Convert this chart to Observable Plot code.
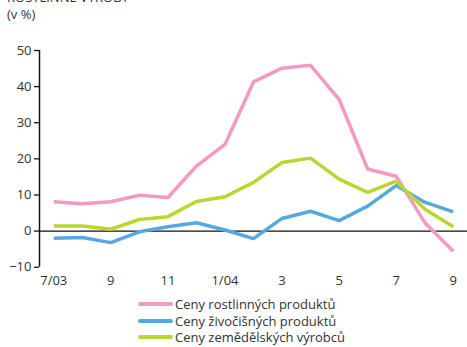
<!DOCTYPE html>
<html>
<head>
<meta charset="utf-8">
<script src="https://cdn.jsdelivr.net/npm/d3@7"></script>
<script src="https://cdn.jsdelivr.net/npm/@observablehq/plot@0.6"></script>
<style>
  html, body { margin: 0; padding: 0; background: #fff; }
  body { width: 467px; height: 347px; overflow: hidden; position: relative; font-family: "Open Sans", sans-serif; color: #333; }
  #title { position: absolute; left: 7px; top: -12px; font-size: 13px; white-space: nowrap; }
  #unit { position: absolute; left: 7px; top: 5px; font-size: 13px; }
  #chart { position: absolute; left: 0; top: 0; }
  #legend { position: absolute; left: 138px; top: 296px; font-size: 13px; line-height: 16.5px; }
  .item { display: flex; align-items: center; white-space: nowrap; }
  .sw { width: 35px; height: 4px; border-radius: 2px; margin-right: 2px; }
</style>
</head>
<body>
<div id="title">ROSTLINNÉ VÝROBY</div>
<div id="unit">(v %)</div>
<div id="chart"></div>
<div id="legend"></div>
<script>
const months = ["7/03","8","9","10","11","12","1/04","2","3","4","5","6","7","8","9"];
const tickLabels = ["7/03","9","11","1/04","3","5","7","9"];
const seriesNames = ["Ceny rostlinných produktů","Ceny živočišných produktů","Ceny zemědělských výrobců"];
const plantPrices = [8.1, 7.6, 8.1, 9.9, 9.3, 18.0, 24.0, 41.3, 45.1, 45.9, 36.5, 17.2, 15.2, 2.4, -5.6];
const animalPrices = [-2.0, -1.8, -3.2, -0.2, 1.2, 2.3, 0.3, -2.1, 3.5, 5.5, 2.9, 6.9, 12.6, 8.0, 5.3];
const farmPrices = [1.4, 1.4, 0.5, 3.2, 4.0, 8.2, 9.5, 13.5, 19.0, 20.2, 14.4, 10.7, 13.8, 6.1, 1.2];
const colors = ["#f49ac2", "#55a9e0", "#bdd531"];
const yTicks = [-10, 0, 10, 20, 30, 40, 50];

const allSeries = [plantPrices, animalPrices, farmPrices];
const data = allSeries.flatMap((vals, s) => vals.map((v, i) => ({i, v, s: seriesNames[s]})));
const tickIdx = months.map((m, i) => i).filter(i => i % 2 === 0);

const plot = Plot.plot({
  width: 467,
  height: 290,
  marginTop: 50,
  marginBottom: 23.3,
  marginLeft: 39,
  marginRight: 0,
  style: {fontFamily: "Open Sans, sans-serif", fontSize: "13px", color: "#333", background: "transparent"},
  x: {domain: [-0.5, 14.5], axis: null},
  y: {domain: [-10, 50], axis: null},
  color: {domain: seriesNames, range: colors},
  marks: [
    Plot.axisY({ticks: yTicks, tickSize: 5, tickPadding: 3, label: null, fontSize: 13, stroke: "#111", strokeWidth: 1.3}),
    Plot.axisX({ticks: tickIdx, tickFormat: (d, k) => tickLabels[k], tickSize: 0, tickPadding: 9, label: null, fontSize: 13}),
    Plot.ruleX([-0.5], {y1: -10, y2: 50, stroke: "#111", strokeWidth: 1.5}),
    Plot.ruleY([0], {stroke: "#111", strokeWidth: 1.3}),
    Plot.line(data, {x: "i", y: "v", z: "s", stroke: "s", strokeWidth: 3.5, strokeLinejoin: "miter", strokeLinecap: "butt"})
  ]
});
document.getElementById("chart").appendChild(plot);

const legend = document.getElementById("legend");
seriesNames.forEach((n, k) => {
  const row = document.createElement("div");
  row.className = "item";
  const sw = document.createElement("span");
  sw.className = "sw";
  sw.style.background = colors[k];
  row.appendChild(sw);
  row.appendChild(document.createTextNode(n));
  legend.appendChild(row);
});
</script>
</body>
</html>
